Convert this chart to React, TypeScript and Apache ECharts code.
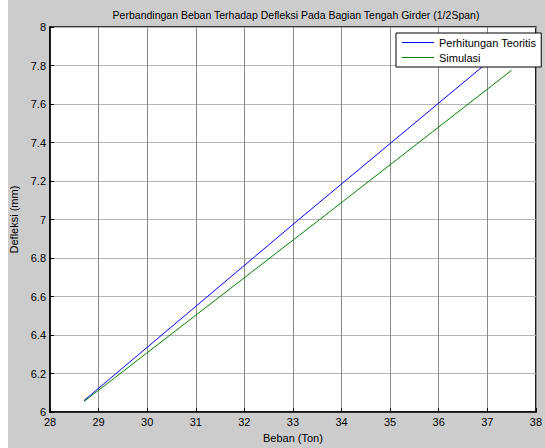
import React, { useEffect, useRef } from "react";
import * as echarts from "echarts";

const titleText = "Perbandingan Beban Terhadap Defleksi Pada Bagian Tengah Girder (1/2Span)";
const xName = "Beban (Ton)";
const yName = "Defleksi (mm)";
const seriesNames = ["Perhitungan Teoritis", "Simulasi"];
const teoritisData: [number, number][] = [
  [28.7, 6.06],
  [33.12, 7.0],
  [37.5, 7.92],
];
const simulasiData: [number, number][] = [
  [28.7, 6.055],
  [33.55, 7.0],
  [37.5, 7.775],
];

export default function App() {
  const ref = useRef<HTMLDivElement>(null);
  useEffect(() => {
    if (!ref.current) return;
    const chart = echarts.init(ref.current, undefined, { renderer: "svg" });
    const font = "Liberation Sans, Arial, Helvetica, sans-serif";
    chart.setOption({
      animation: false,
      backgroundColor: "#ffffff",
      textStyle: { fontFamily: font },
      graphic: [
        {
          type: "rect",
          z: -100,
          silent: true,
          shape: { x: 8, y: 0, width: 537, height: 448 },
          style: { fill: "#cccccc" },
        },
      ],
      title: {
        text: titleText,
        left: 296,
        textAlign: "center",
        top: 9,
        padding: 0,
        textStyle: { fontSize: 10.5, fontWeight: "normal", color: "#000", fontFamily: font },
      },
      legend: {
        orient: "vertical",
        left: 396,
        top: 33,
        z: 20,
        padding: [3, 5, 3, 6],
        itemGap: 2,
        itemWidth: 32,
        itemHeight: 1,
        icon: "rect",
        borderColor: "#000",
        borderWidth: 1,
        borderRadius: 0,
        backgroundColor: "#fff",
        textStyle: { fontSize: 11, color: "#000", lineHeight: 13, fontFamily: font, padding: [0, 0, 0, 0] },
        data: seriesNames,
      },
      grid: {
        left: 50,
        top: 27,
        width: 492,
        height: 389,
        show: true,
        backgroundColor: "#fff",
        borderColor: "#000",
        borderWidth: 1.5,
        containLabel: false,
      },
      xAxis: {
        type: "value",
        min: 28,
        max: 38,
        interval: 1,
        name: xName,
        nameLocation: "middle",
        nameGap: 15,
        nameTextStyle: { fontSize: 11, color: "#000", fontFamily: font },
        axisLine: { show: true, lineStyle: { color: "#000", width: 1.5 } },
        axisTick: { show: true, inside: true, length: 4, lineStyle: { color: "#000" } },
        axisLabel: { margin: 4, fontSize: 11, color: "#000", fontFamily: font },
        splitLine: { show: true, lineStyle: { color: "#8a8a8a", type: "solid", width: 1 } },
      },
      yAxis: {
        type: "value",
        min: 6,
        max: 8,
        interval: 0.2,
        name: yName,
        nameLocation: "middle",
        nameGap: 23,
        nameRotate: 90,
        nameTextStyle: { fontSize: 11, color: "#000", fontFamily: font },
        axisLine: { show: true, lineStyle: { color: "#000", width: 1.5 } },
        axisTick: { show: true, inside: true, length: 4, lineStyle: { color: "#000" } },
        axisLabel: { margin: 4, fontSize: 11, color: "#000", fontFamily: font },
        splitLine: { show: true, lineStyle: { color: "#b4b4b4", type: "solid", width: 1 } },
      },
      series: [
        {
          name: seriesNames[0],
          type: "line",
          data: teoritisData,
          symbol: "none",
          lineStyle: { color: "#0000ff", width: 1 },
          itemStyle: { color: "#0000ff" },
          z: 3,
        },
        {
          name: seriesNames[1],
          type: "line",
          data: simulasiData,
          symbol: "none",
          lineStyle: { color: "#008000", width: 1 },
          itemStyle: { color: "#008000" },
          z: 3,
        },
      ],
    });
    return () => chart.dispose();
  }, []);
  return (
    <div
      ref={ref}
      style={{ position: "absolute", left: 0, top: 0, width: 545, height: 448 }}
    />
  );
}
